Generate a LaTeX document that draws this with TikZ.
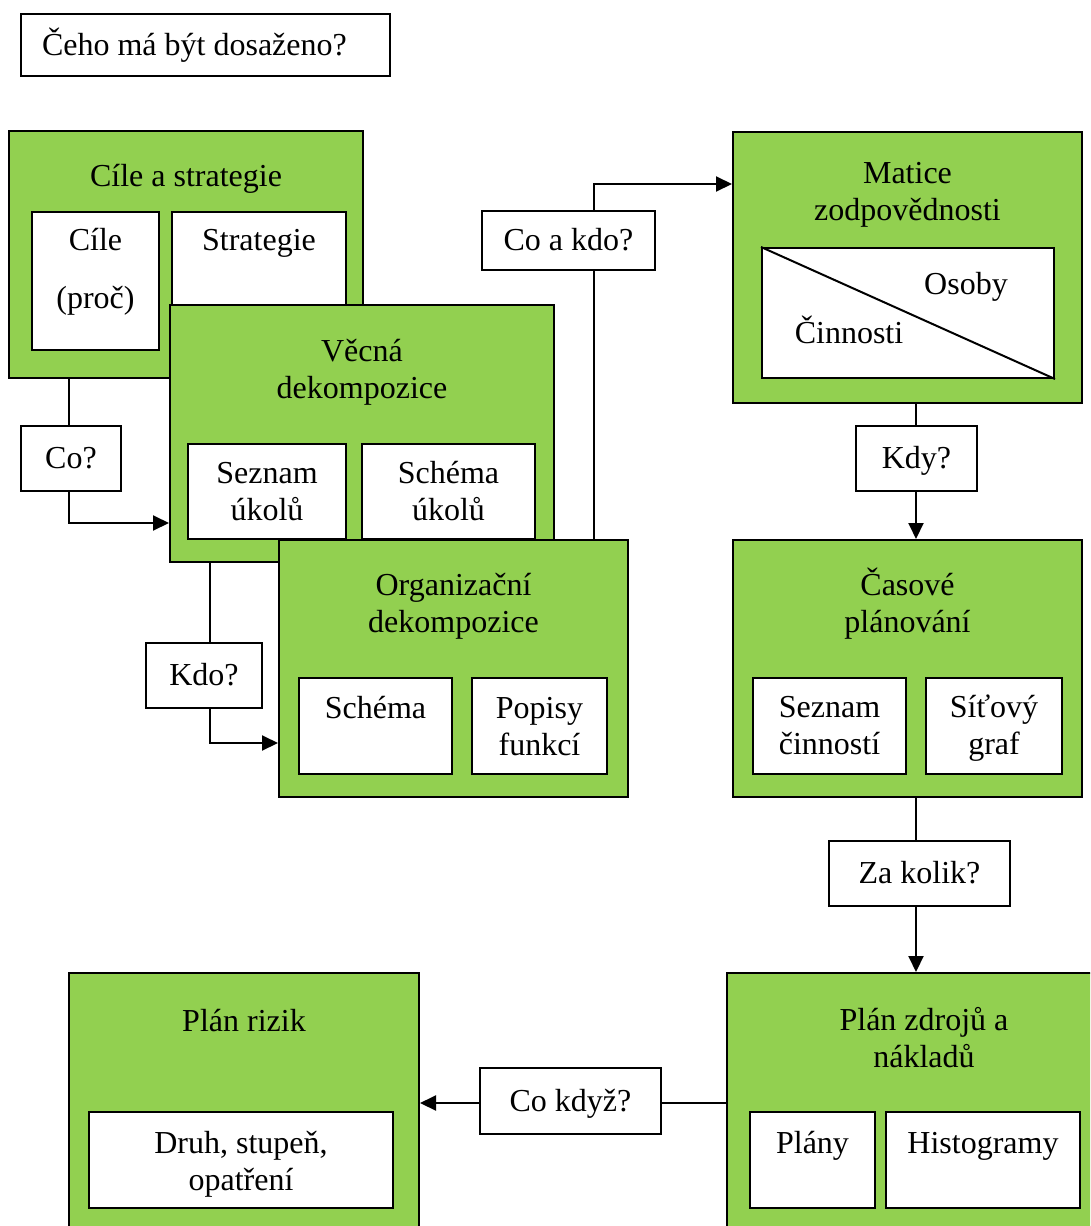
\documentclass[tikz,border=0pt]{standalone}
\usepackage{fontspec}
\setmainfont{Liberation Serif}
\usetikzlibrary{arrows.meta}
\definecolor{zelena}{RGB}{146,208,80}

\begin{document}
\begin{tikzpicture}[x=1pt, y=-1pt, line width=2pt,
  every node/.style={font=\fontsize{32}{37}\selectfont},
  grbox/.style={draw, fill=zelena, inner sep=0pt},
  wbox/.style={draw, fill=white, inner sep=0pt},
  otazka/.style={draw, fill=white, inner sep=0pt, text height=20pt, text depth=0pt},
  nadpis/.style={align=center, anchor=base},
  sipka/.style={-{Triangle[length=16pt,width=15pt]}}]
\useasboundingbox (0,0) rectangle (1090,1226);
\clip (0,0) rectangle (1090,1226);
\node[wbox, minimum width=369, minimum height=62, text width=327, align=flush left] (ceho) at (205.5,45) {Čeho má být dosaženo?};
% cile a strategie
\node[grbox, minimum width=354, minimum height=247] (cile) at (186,254.5) {};
\node[nadpis] (cileT) at (186,186) {Cíle a strategie};
\node[wbox, minimum width=127, minimum height=138] (cil) at (95.5,281) {};
\node[wbox, minimum width=174, minimum height=138] (strat) at (259,281) {};
\node[nadpis] (cilT) at (95.5,308) {Cíle\\[21pt](proč)};
\node[nadpis] (stratT) at (259,250) {Strategie};
% vecna dekompozice
\node[grbox, minimum width=384, minimum height=257] (vecna) at (362,433.5) {};
\node[nadpis] (vecnaT) at (362,398) {Věcná\\dekompozice};
\node[wbox, minimum width=158, minimum height=95] (seznam) at (267,491.5) {};
\node[wbox, minimum width=173, minimum height=95] (schemaU) at (448.5,491.5) {};
\node[nadpis] (seznamT) at (267,520) {Seznam\\úkolů};
\node[nadpis] (schemaUT) at (448.5,520) {Schéma\\úkolů};
% organizacni dekompozice
\node[grbox, minimum width=349, minimum height=257] (org) at (453.5,668.5) {};
\node[nadpis] (orgT) at (453.5,632) {Organizační\\dekompozice};
\node[wbox, minimum width=153, minimum height=96] (schema) at (375.5,726) {};
\node[wbox, minimum width=135, minimum height=96] (popisy) at (539.5,726) {};
\node[nadpis] (schemaT) at (375.5,718) {Schéma};
\node[nadpis] (popisyT) at (539.5,755) {Popisy\\funkcí};
% matice zodpovednosti
\node[grbox, minimum width=349, minimum height=271] (matice) at (907.5,267.5) {};
\node[nadpis] (maticeT) at (907.5,220) {Matice\\zodpovědnosti};
\node[wbox, minimum width=292, minimum height=130] (tabulka) at (908,313) {};
\draw (tabulka.north west) -- (tabulka.south east);
\node[nadpis] (osoby) at (966,294) {Osoby};
\node[nadpis] (cinnosti) at (849,343) {Činnosti};
% casove planovani
\node[grbox, minimum width=349, minimum height=257] (casove) at (907.5,668.5) {};
\node[nadpis] (casoveT) at (907.5,632) {Časové\\plánování};
\node[wbox, minimum width=153, minimum height=96] (seznamC) at (829.5,726) {};
\node[wbox, minimum width=136, minimum height=96] (sit) at (994,726) {};
\node[nadpis] (seznamCT) at (829.5,754) {Seznam\\činností};
\node[nadpis] (sitT) at (994,754) {Síťový\\graf};
% plan zdroju a nakladu
\node[grbox, minimum width=394, minimum height=280] (zdroje) at (924,1113) {};
\node[nadpis] (zdrojeT) at (924,1067) {Plán zdrojů a\\nákladů};
\node[wbox, minimum width=125, minimum height=96] (plany) at (812.5,1160) {};
\node[wbox, minimum width=194, minimum height=96] (histo) at (983,1160) {};
\node[nadpis] (planyT) at (812.5,1153) {Plány};
\node[nadpis] (histoT) at (983,1153) {Histogramy};
% plan rizik
\node[grbox, minimum width=350, minimum height=280] (rizika) at (244,1113) {};
\node[nadpis] (rizikaT) at (244,1031) {Plán rizik};
\node[wbox, minimum width=304, minimum height=96] (druh) at (241,1160) {};
\node[nadpis] (druhT) at (241,1190) {Druh, stupeň,\\opatření};
% otazky
\node[otazka, minimum width=100, minimum height=65] (co) at (71,458.5) {Co?};
\node[otazka, minimum width=116, minimum height=65] (kdo) at (204,675.5) {Kdo?};
\node[otazka, minimum width=173, minimum height=59] (coakdo) at (568.5,240.5) {Co a kdo?};
\node[otazka, minimum width=121, minimum height=65] (kdy) at (916.5,458.5) {Kdy?};
\node[otazka, minimum width=181, minimum height=65] (zakolik) at (919.5,873.5) {Za kolik?};
\node[otazka, minimum width=181, minimum height=66] (cokdyz) at (570.5,1101) {Co když?};
% spojnice
\coordinate (coZlom) at (69,523);
\coordinate (kdoZlom) at (210,743);
\coordinate (cakZlom) at (594,184);
\coordinate (kdyX) at (916,0);
\coordinate (cokdyzY) at (0,1103);
\draw (cile.south -| coZlom) -- (co.north -| coZlom);
\draw[sipka] (co.south -| coZlom) |- (vecna.west |- coZlom);
\draw (vecna.south -| kdoZlom) -- (kdo.north -| kdoZlom);
\draw[sipka] (kdo.south -| kdoZlom) |- (org.west |- kdoZlom);
\draw (org.north -| cakZlom) -- (coakdo.south -| cakZlom);
\draw[sipka] (coakdo.north -| cakZlom) |- (matice.west |- cakZlom);
\draw (matice.south -| kdyX) -- (kdy.north -| kdyX);
\draw[sipka] (kdy.south -| kdyX) -- (casove.north -| kdyX);
\draw (casove.south -| kdyX) -- (zakolik.north -| kdyX);
\draw[sipka] (zakolik.south -| kdyX) -- (zdroje.north -| kdyX);
\draw (zdroje.west |- cokdyzY) -- (cokdyz.east |- cokdyzY);
\draw[sipka] (cokdyz.west |- cokdyzY) -- (rizika.east |- cokdyzY);
\end{tikzpicture}
\end{document}
